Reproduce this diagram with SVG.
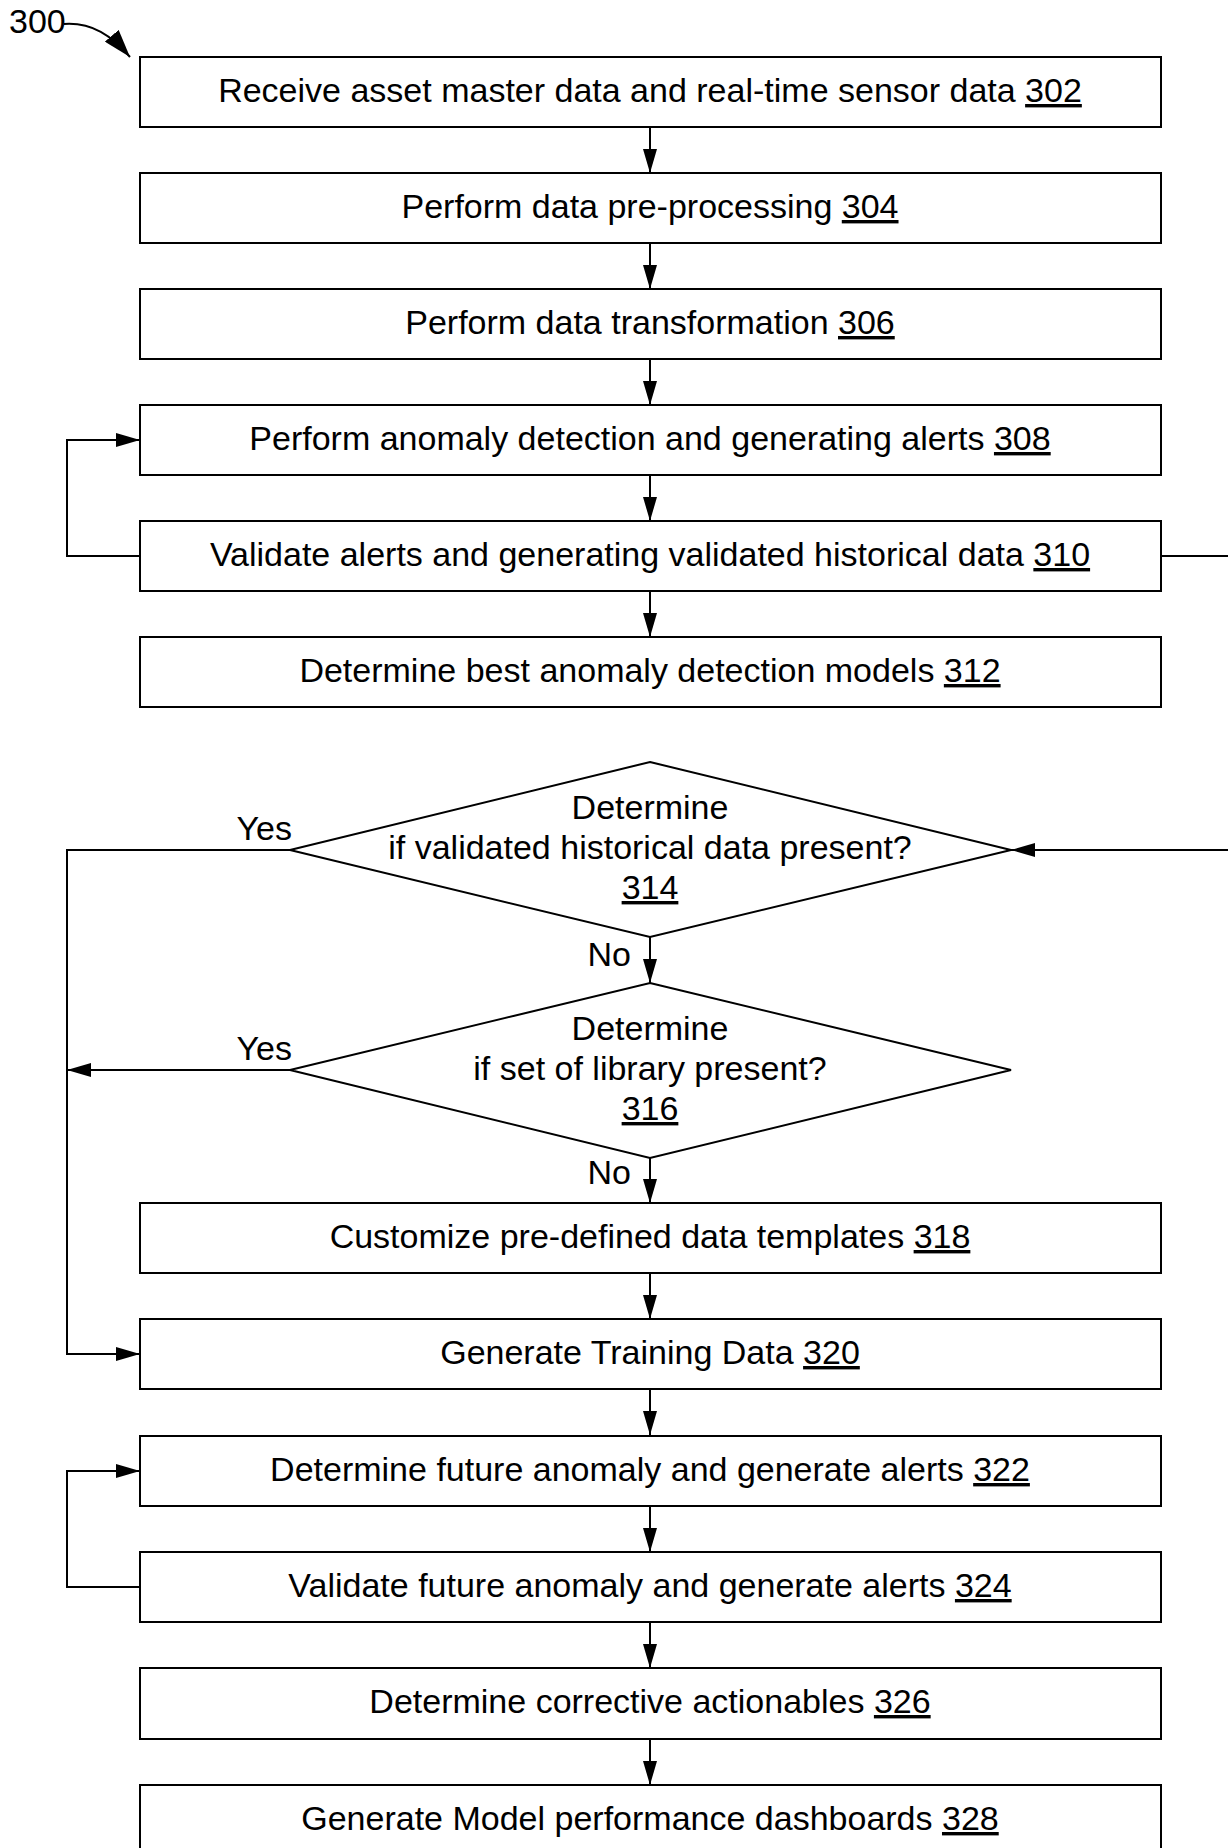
<svg xmlns="http://www.w3.org/2000/svg" width="1228" height="1848" viewBox="0 0 1228 1848">
<defs>
<style>
.box{fill:#fff;stroke:#000;stroke-width:2}
.ln{fill:none;stroke:#000;stroke-width:2}
.t{font-family:"Liberation Sans",Arial,sans-serif;font-size:34px;fill:#000;text-anchor:middle}
.lbl{font-family:"Liberation Sans",Arial,sans-serif;font-size:34px;fill:#000;text-anchor:end}
.u{text-decoration:underline}
</style>
<marker id="ah" markerUnits="userSpaceOnUse" markerWidth="24" markerHeight="14" viewBox="0 0 24 14" refX="24" refY="7" orient="auto">
<path d="M0,0 L24,7 L0,14 z" fill="#000"/>
</marker>
<marker id="ah2" markerUnits="userSpaceOnUse" markerWidth="28" markerHeight="18" viewBox="0 0 28 18" refX="28" refY="9" orient="auto">
<path d="M0,0 L28,9 L0,18 z" fill="#000"/>
</marker>
</defs>
<rect width="1228" height="1848" fill="#fff"/>

<g id="connectors">
<path class="ln" d="M64,24 C92,22 112,36 130,57" marker-end="url(#ah2)"/>
<line class="ln" x1="650" y1="127" x2="650" y2="173" marker-end="url(#ah)"/>
<line class="ln" x1="650" y1="243" x2="650" y2="289" marker-end="url(#ah)"/>
<line class="ln" x1="650" y1="359" x2="650" y2="405" marker-end="url(#ah)"/>
<line class="ln" x1="650" y1="475" x2="650" y2="521" marker-end="url(#ah)"/>
<line class="ln" x1="650" y1="591" x2="650" y2="637" marker-end="url(#ah)"/>
<line class="ln" x1="650" y1="937" x2="650" y2="983" marker-end="url(#ah)"/>
<line class="ln" x1="650" y1="1158" x2="650" y2="1203" marker-end="url(#ah)"/>
<line class="ln" x1="650" y1="1273" x2="650" y2="1319" marker-end="url(#ah)"/>
<line class="ln" x1="650" y1="1389" x2="650" y2="1435" marker-end="url(#ah)"/>
<line class="ln" x1="650" y1="1506" x2="650" y2="1552" marker-end="url(#ah)"/>
<line class="ln" x1="650" y1="1622" x2="650" y2="1668" marker-end="url(#ah)"/>
<line class="ln" x1="650" y1="1739" x2="650" y2="1785" marker-end="url(#ah)"/>
<path class="ln" d="M140,556 H67 V440 H140" marker-end="url(#ah)"/>
<path class="ln" d="M1161,556 H1250 V850 H1011" marker-end="url(#ah)"/>
<path class="ln" d="M290,850 H67 V1354 H140" marker-end="url(#ah)"/>
<path class="ln" d="M290,1070 H67" marker-end="url(#ah)"/>
<path class="ln" d="M140,1587 H67 V1471 H140" marker-end="url(#ah)"/>
<text class="lbl" x="292" y="840">Yes</text>
<text class="lbl" x="292" y="1060">Yes</text>
<text class="lbl" x="631" y="966">No</text>
<text class="lbl" x="631" y="1184">No</text>
</g>

<g id="label300"><text x="9" y="33" font-family="Liberation Sans,Arial,sans-serif" font-size="34">300</text></g>

<g id="n302"><rect class="box" x="140" y="57" width="1021" height="70"/><text class="t" x="650" y="102">Receive asset master data and real-time sensor data <tspan class="u">302</tspan></text></g>
<g id="n304"><rect class="box" x="140" y="173" width="1021" height="70"/><text class="t" x="650" y="218">Perform data pre-processing <tspan class="u">304</tspan></text></g>
<g id="n306"><rect class="box" x="140" y="289" width="1021" height="70"/><text class="t" x="650" y="334">Perform data transformation <tspan class="u">306</tspan></text></g>
<g id="n308"><rect class="box" x="140" y="405" width="1021" height="70"/><text class="t" x="650" y="450">Perform anomaly detection and generating alerts <tspan class="u">308</tspan></text></g>
<g id="n310"><rect class="box" x="140" y="521" width="1021" height="70"/><text class="t" x="650" y="566">Validate alerts and generating validated historical data <tspan class="u">310</tspan></text></g>
<g id="n312"><rect class="box" x="140" y="637" width="1021" height="70"/><text class="t" x="650" y="682">Determine best anomaly detection models <tspan class="u">312</tspan></text></g>

<g id="n314"><polygon class="box" points="650,762 1011,850 650,937 290,850"/>
<text class="t" x="650" y="819">Determine</text>
<text class="t" x="650" y="859">if validated historical data present?</text>
<text class="t" x="650" y="899"><tspan class="u">314</tspan></text></g>

<g id="n316"><polygon class="box" points="650,983 1011,1070 650,1158 290,1070"/>
<text class="t" x="650" y="1040">Determine</text>
<text class="t" x="650" y="1080">if set of library present?</text>
<text class="t" x="650" y="1120"><tspan class="u">316</tspan></text></g>

<g id="n318"><rect class="box" x="140" y="1203" width="1021" height="70"/><text class="t" x="650" y="1248">Customize pre-defined data templates <tspan class="u">318</tspan></text></g>
<g id="n320"><rect class="box" x="140" y="1319" width="1021" height="70"/><text class="t" x="650" y="1364">Generate Training Data <tspan class="u">320</tspan></text></g>
<g id="n322"><rect class="box" x="140" y="1436" width="1021" height="70"/><text class="t" x="650" y="1481">Determine future anomaly and generate alerts <tspan class="u">322</tspan></text></g>
<g id="n324"><rect class="box" x="140" y="1552" width="1021" height="70"/><text class="t" x="650" y="1597">Validate future anomaly and generate alerts <tspan class="u">324</tspan></text></g>
<g id="n326"><rect class="box" x="140" y="1668" width="1021" height="71"/><text class="t" x="650" y="1713">Determine corrective actionables <tspan class="u">326</tspan></text></g>
<g id="n328"><rect class="box" x="140" y="1785" width="1021" height="71"/><text class="t" x="650" y="1830">Generate Model performance dashboards <tspan class="u">328</tspan></text></g>
</svg>
